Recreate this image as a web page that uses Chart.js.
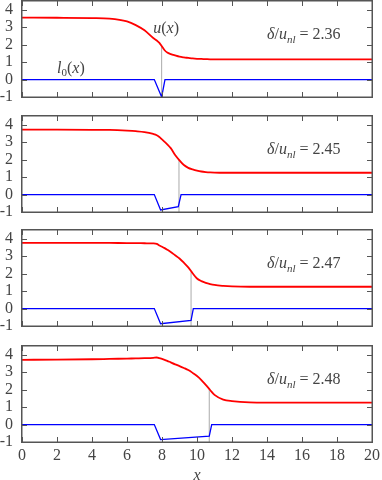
<!DOCTYPE html>
<html>
<head>
<meta charset="utf-8">
<script src="https://cdn.jsdelivr.net/npm/chart.js@4.4.1/dist/chart.umd.min.js"></script>
<style>
  html, body { margin: 0; padding: 0; background: #fff; overflow: hidden; }
  canvas { position: absolute; left: 0; }
</style>
</head>
<body>
<canvas id="p0" width="382" height="106" style="top:-4px"></canvas>
<canvas id="p1" width="382" height="106" style="top:111px"></canvas>
<canvas id="p2" width="382" height="106" style="top:225px"></canvas>
<canvas id="p3" width="382" height="143" style="top:341px"></canvas>
<script>
// tick labels
var xTicks = [0, 2, 4, 6, 8, 10, 12, 14, 16, 18, 20];
var yTicks = [-1, 0, 1, 2, 3, 4];

// u(x) sampled on one x grid, one row per panel
var uX = [0, 2, 4, 5, 6, 6.5, 7, 7.5, 7.7, 7.85, 8, 8.15, 8.3, 8.5, 8.75, 9, 9.25, 9.5, 9.75, 10, 10.25, 10.5, 10.75, 11, 11.5, 12, 13, 14, 16, 18, 20];
var u236 = [3.55, 3.54, 3.52, 3.49, 3.33, 3.12, 2.82, 2.38, 2.24, 2.10, 1.89, 1.68, 1.55, 1.46, 1.38, 1.31, 1.27, 1.24, 1.21, 1.19, 1.18, 1.17, 1.16, 1.16, 1.15, 1.15, 1.15, 1.15, 1.15, 1.15, 1.15];
var u245 = [3.72, 3.72, 3.71, 3.70, 3.66, 3.63, 3.58, 3.47, 3.40, 3.30, 3.16, 3.02, 2.88, 2.66, 2.27, 1.96, 1.69, 1.53, 1.44, 1.37, 1.32, 1.29, 1.27, 1.26, 1.25, 1.25, 1.25, 1.25, 1.25, 1.25, 1.25];
var u247 = [3.76, 3.76, 3.76, 3.76, 3.75, 3.75, 3.74, 3.73, 3.70, 3.61, 3.54, 3.46, 3.37, 3.24, 3.05, 2.87, 2.63, 2.36, 2.02, 1.72, 1.57, 1.47, 1.40, 1.35, 1.30, 1.27, 1.25, 1.25, 1.25, 1.25, 1.25];
var u248 = [3.71, 3.72, 3.74, 3.76, 3.78, 3.79, 3.80, 3.82, 3.84, 3.80, 3.76, 3.71, 3.65, 3.56, 3.45, 3.35, 3.24, 3.12, 2.96, 2.78, 2.55, 2.27, 1.98, 1.70, 1.43, 1.34, 1.27, 1.26, 1.26, 1.26, 1.26];

// l0(x) per panel
var l236X = [0, 7.56, 7.98, 8.17, 20];
var l236Y = [0, 0, -1, 0, 0];
var l245X = [0, 7.56, 7.92, 8.93, 9.09, 20];
var l245Y = [0, 0, -0.88, -0.69, 0, 0];
var l247X = [0, 7.56, 7.92, 9.66, 9.79, 20];
var l247Y = [0, 0, -0.87, -0.68, 0, 0];
var l248X = [0, 7.56, 7.92, 10.7, 10.84, 20];
var l248Y = [0, 0, -0.86, -0.66, 0, 0];

// gray marker line: position and height (where it meets u)
var markX = [7.98, 8.97, 9.66, 10.7];
var markTop = [1.91, 1.99, 2.08, 2.04];

var deltas = ['2.36', '2.45', '2.47', '2.48'];

var SERIF = '"Liberation Serif", serif';
var INK = '#444444';
var FRAME = '#555555';

function pts(xs, ys) {
  return xs.map(function (x, i) { return { x: x, y: ys[i] }; });
}

function drawRuns(ctx, x, y, runs, size) {
  runs.forEach(function (r) {
    var s = r.sub ? Math.round(size * 0.7) : size;
    ctx.font = (r.it ? 'italic ' : '') + s + 'px ' + SERIF;
    ctx.fillText(r.t, x, y + (r.sub ? size * 0.22 : 0));
    x += ctx.measureText(r.t).width;
  });
}

function overlay(notes) {
  return {
    id: 'overlay',
    afterDatasetsDraw: function (chart) {
      var a = chart.chartArea, ctx = chart.ctx;
      var xs = chart.scales.x, ys = chart.scales.y;
      var L = Math.round(a.left), R = Math.round(a.right);
      var T = Math.round(a.top), B = Math.round(a.bottom);
      ctx.save();
      ctx.fillStyle = FRAME;
      // frame
      ctx.fillRect(L - 1, T - 1, R - L + 2, 1.5);
      ctx.fillRect(L - 1, B - 0.5, R - L + 2, 1.5);
      ctx.fillRect(L - 1, T - 1, 1.5, B - T + 2);
      ctx.fillRect(R - 0.5, T - 1, 1.5, B - T + 2);
      // inward ticks on all four sides
      xTicks.forEach(function (v) {
        var px = Math.round(xs.getPixelForValue(v));
        ctx.fillRect(px, B - 5, 1, 5);
        ctx.fillRect(px, T, 1, 5);
      });
      yTicks.forEach(function (v) {
        var py = Math.round(ys.getPixelForValue(v));
        ctx.fillRect(L, py, 5, 1);
        ctx.fillRect(R - 5, py, 5, 1);
      });

      ctx.fillStyle = INK;
      ctx.textBaseline = 'alphabetic';
      ctx.textAlign = 'left';
      notes.forEach(function (n) {
        drawRuns(ctx, xs.getPixelForValue(n.x), ys.getPixelForValue(n.y), n.runs, 16);
      });
      ctx.restore();
    }
  };
}

function buildPanel(id, i, uVals, lx, ly, last) {
  var el = document.getElementById(id);
  if (!el || !window.Chart) return;

  var notes = [{
    x: 14, y: 2.3,
    runs: [{ t: 'δ', it: 1 }, { t: '/' }, { t: 'u', it: 1 }, { t: 'nl', it: 1, sub: 1 }, { t: ' = ' + deltas[i] }]
  }];
  if (i === 0) {
    notes.push({ x: 7.5, y: 2.68, runs: [{ t: 'u', it: 1 }, { t: '(' }, { t: 'x', it: 1 }, { t: ')' }] });
    notes.push({ x: 2.0, y: 0.4, runs: [{ t: 'l', it: 1 }, { t: '0', sub: 1 }, { t: '(' }, { t: 'x', it: 1 }, { t: ')' }] });
  }

  var xScale = {
    type: 'linear', min: 0, max: 20,
    display: last,
    afterBuildTicks: function (s) { s.ticks = xTicks.map(function (v) { return { value: v }; }); },
    grid: { display: false, drawTicks: false },
    border: { display: false },
    ticks: { color: INK, font: { family: SERIF, size: 16 }, padding: 4, maxRotation: 0, autoSkip: false },
    title: { display: true, text: 'x', color: INK, font: { family: SERIF, style: 'italic', size: 16, lineHeight: 1 }, padding: 0 }
  };
  if (last) {
    xScale.afterFit = function (s) {
      s.height = 42;
      s.paddingLeft = 0; s.paddingRight = 0;
    };
  }

  new Chart(el.getContext('2d'), {
    type: 'line',
    data: {
      datasets: [{
        data: pts(uX, uVals),
        borderColor: '#ff0000',
        borderWidth: 1.8,
        pointRadius: 0,
        cubicInterpolationMode: 'monotone',
        fill: false
      }, {
        data: pts(lx, ly),
        borderColor: '#0000ff',
        borderWidth: 1.3,
        pointRadius: 0,
        tension: 0,
        fill: false
      }, {
        data: pts([markX[i], markX[i]], [-1, markTop[i]]),
        borderColor: '#aaaaaa',
        borderWidth: 1,
        pointRadius: 0,
        fill: false
      }]
    },
    options: {
      responsive: false,
      animation: false,
      events: [],
      layout: { padding: { left: 0, right: 10, top: 5, bottom: last ? 0 : 5 } },
      plugins: { legend: { display: false }, tooltip: { enabled: false } },
      scales: {
        x: xScale,
        y: {
          type: 'linear', min: -1, max: 4.5,
          afterBuildTicks: function (s) { s.ticks = yTicks.map(function (v) { return { value: v }; }); },
          afterFit: function (s) {
            s.width = 22;
            s.paddingTop = 0; s.paddingBottom = 0;
          },
          grid: { display: false, drawTicks: false },
          border: { display: false },
          ticks: { color: INK, font: { family: SERIF, size: 16 }, padding: 9, autoSkip: false }
        }
      }
    },
    plugins: [overlay(notes)]
  });
}

buildPanel('p0', 0, u236, l236X, l236Y, false);
buildPanel('p1', 1, u245, l245X, l245Y, false);
buildPanel('p2', 2, u247, l247X, l247Y, false);
buildPanel('p3', 3, u248, l248X, l248Y, true);
</script>
</body>
</html>
